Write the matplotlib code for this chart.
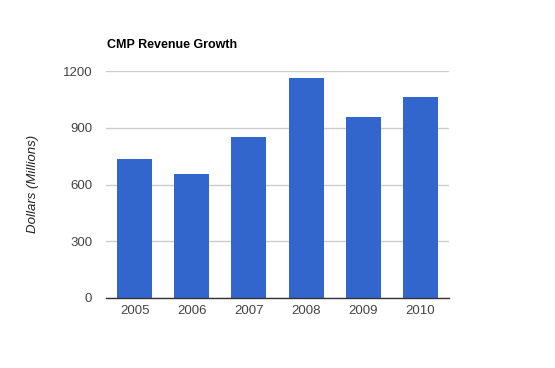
import matplotlib
matplotlib.use("Agg")
import matplotlib.pyplot as plt

years = ["2005", "2006", "2007", "2008", "2009", "2010"]
revenue = [736, 656, 852, 1164, 958, 1063]
yticks = [0, 300, 600, 900, 1200]

plt.rcParams['font.family'] = ['Liberation Sans', 'DejaVu Sans']

fig = plt.figure(figsize=(5.55, 3.68), dpi=100)
ax = fig.add_axes([106/555, 1-298/368, 343/555, (298-71.3)/368])

x = list(range(len(years)))
ax.bar(x, revenue, width=0.61, color="#3366cc", zorder=2)
ax.set_xlim(-0.5, len(years)-0.5)
ax.set_ylim(0, 1200)
ax.set_yticks(yticks)
ax.set_yticklabels([str(v) for v in yticks])
ax.set_xticks(x)
ax.set_xticklabels(years)
ax.grid(axis='y', color="#cccccc", linewidth=1, zorder=0)
ax.tick_params(axis='both', length=0, labelsize=9.5, labelcolor="#444444")
ax.tick_params(axis='y', pad=10)
ax.tick_params(axis='x', pad=5)
for s in ['top', 'right', 'left']:
    ax.spines[s].set_visible(False)
ax.spines['bottom'].set_color("#333333")
ax.spines['bottom'].set_linewidth(1)
ax.spines['bottom'].set_zorder(3)

fig.text(107/555, 1-45.5/368, "CMP Revenue Growth", fontsize=9, fontweight='bold',
         color="#000000", ha='left', va='center')
fig.text(33/555, 1-184/368, "Dollars (Millions)", fontsize=9.5, style='italic',
         color="#222222", rotation=90, ha='center', va='center')

fig.savefig("out.png", dpi=100)
